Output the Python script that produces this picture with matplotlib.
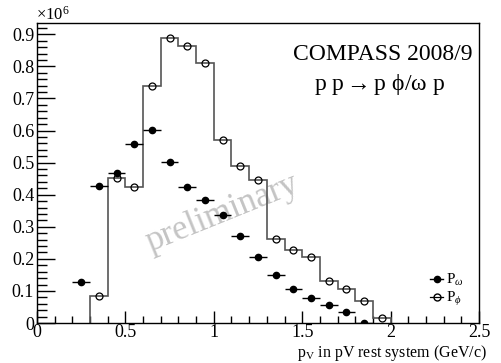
import matplotlib
matplotlib.use('Agg')
import matplotlib.pyplot as plt
from matplotlib.lines import Line2D
from matplotlib.ticker import MultipleLocator
import numpy as np

plt.rcParams['font.family'] = ['Liberation Serif', 'DejaVu Serif']
plt.rcParams['mathtext.fontset'] = 'custom'
plt.rcParams['mathtext.rm'] = 'Liberation Serif'
plt.rcParams['mathtext.it'] = 'Liberation Serif:italic'

# p_phi histogram (x10^6), bins of 0.1 GeV/c from 0.3 to 2.0
phi_edges = np.round(np.arange(0.3, 2.01, 0.1), 2)
phi_vals = [0.085, 0.452, 0.425, 0.740, 0.887, 0.862, 0.809, 0.571, 0.489,
            0.445, 0.262, 0.228, 0.207, 0.131, 0.106, 0.070, 0.017]

# p_omega points (x10^6) at bin centres 0.25 .. 1.85
omega_x = [0.25, 0.35, 0.45, 0.55, 0.65, 0.75, 0.85, 0.95, 1.05, 1.15,
           1.25, 1.35, 1.45, 1.55, 1.65, 1.75, 1.85]
omega_vals = [0.129, 0.428, 0.467, 0.558, 0.602, 0.502, 0.423, 0.384, 0.337,
              0.270, 0.206, 0.150, 0.107, 0.078, 0.055, 0.036, 0.0]

fig = plt.figure(figsize=(5.02, 3.63), dpi=100)
ax = fig.add_axes([0.0737, 0.110, 0.8805, 0.827])

phi_centres = (phi_edges[:-1] + phi_edges[1:]) / 2
ax.stairs(phi_vals, phi_edges, baseline=0, color='#555555', lw=1.2, zorder=2)
ax.plot(phi_centres, phi_vals, 'o', ms=5, mfc='none', mec='black', mew=0.9, zorder=3)

ax.errorbar(omega_x, omega_vals, xerr=0.05, fmt='o', ms=4.5, color='black',
            elinewidth=1.0, capsize=0, zorder=4)

ax.set_xlim(0, 2.5)
ax.set_ylim(0, 0.9355)
ax.xaxis.set_minor_locator(MultipleLocator(0.1))
ax.yaxis.set_minor_locator(MultipleLocator(0.02))
ax.tick_params(which='both', direction='in', top=False, right=False, width=1.0)
ax.tick_params(axis='x', which='major', length=9, pad=1)
ax.tick_params(axis='x', which='minor', length=5)
ax.tick_params(axis='y', which='major', length=13, pad=2)
ax.tick_params(axis='y', which='minor', length=7)
for s in ax.spines.values():
    s.set_linewidth(1.0)

ax.set_xticks([0, 0.5, 1, 1.5, 2, 2.5])
ax.set_xticklabels(['0', '0.5', '1', '1.5', '2', '2.5'], fontsize=13)
yt = np.round(np.arange(0, 0.91, 0.1), 1)
ax.set_yticks(yt)
ax.set_yticklabels(['0'] + ['%.1f' % v for v in yt[1:]], fontsize=13)

fig.text(36 / 502, 1 - 20 / 363, '×10$^{6}$', fontsize=12, ha='left', va='baseline')

ax.text(0.782, 0.877, 'COMPASS 2008/9', transform=ax.transAxes, fontsize=17,
        ha='center', va='baseline')
ax.text(0.775, 0.777, 'p p$\\rightarrow$p ϕ/ω p', transform=ax.transAxes,
        fontsize=17, ha='center', va='baseline')

ax.text(0.419, 0.367, 'preliminary', transform=ax.transAxes, fontsize=25,
        color='#c4c4c4', rotation=22, ha='center', va='center', zorder=1)

fig.text(487 / 502, 1 - 357 / 363, 'p$_{\\mathrm{V}}$ in pV rest system (GeV/c)',
         fontsize=11.5, ha='right', va='baseline')

h_omega = Line2D([], [], color='black', marker='o', ms=4.5, lw=1.0)
h_phi = Line2D([], [], color='black', marker='o', ms=5, mfc='none', lw=0.9)
ax.legend([h_omega, h_phi], ['P$_{\\omega}$', 'P$_{\\phi}$'],
          loc='center left', bbox_to_anchor=(0.871, 0.110), frameon=False,
          fontsize=11, handlelength=0.9, handletextpad=0.2, labelspacing=0.15,
          borderpad=0)

fig.savefig('out.png', dpi=100)
